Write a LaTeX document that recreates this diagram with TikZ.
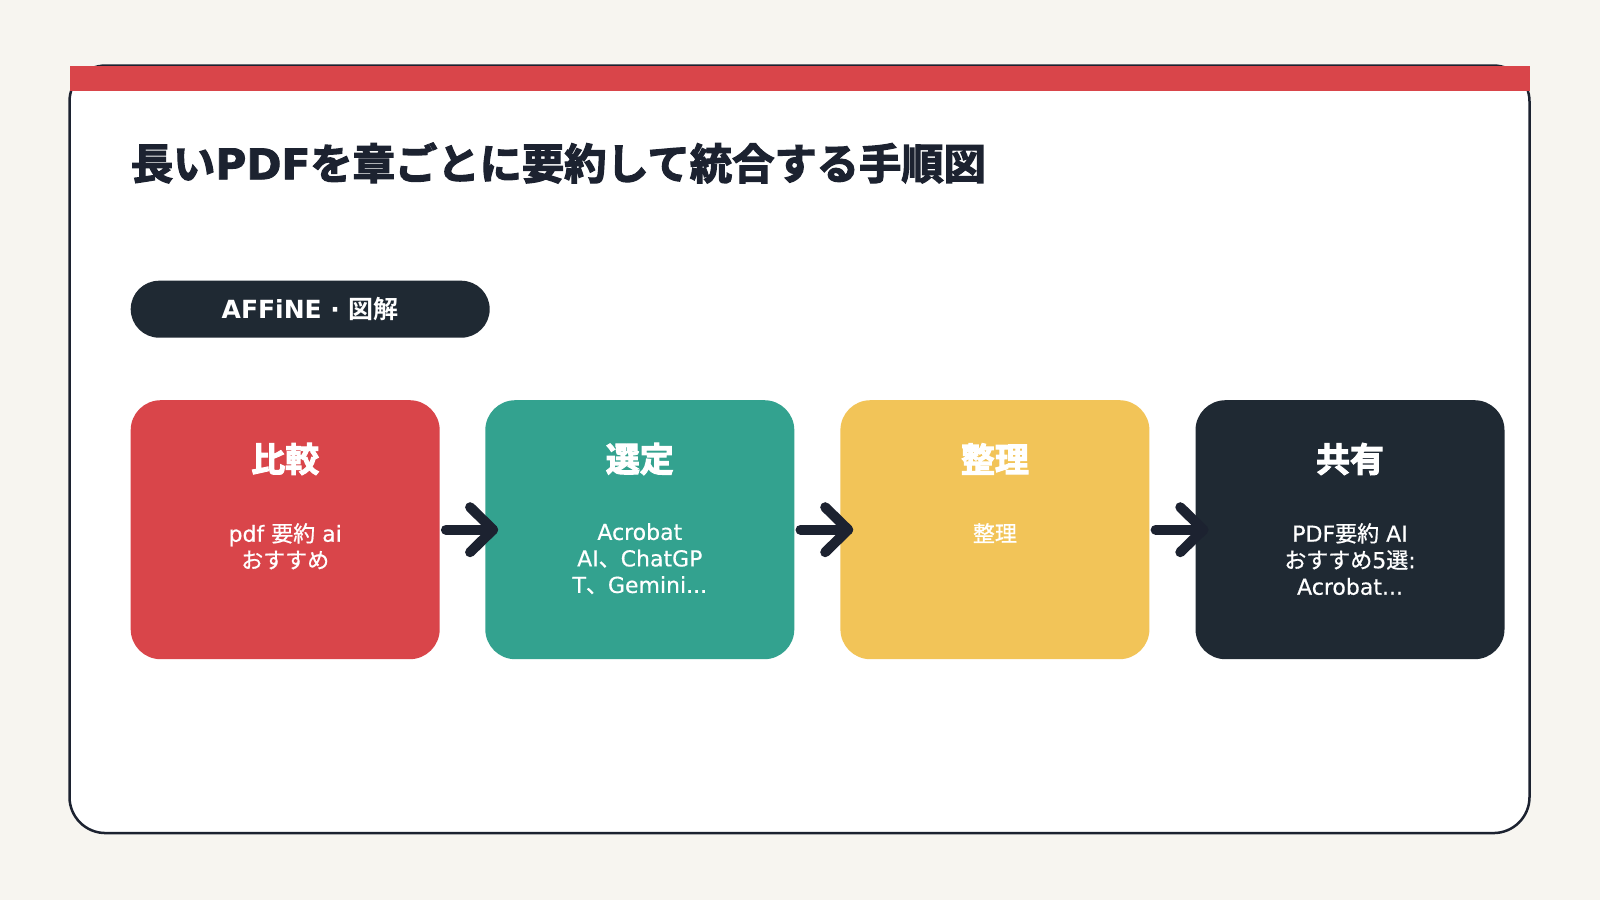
\documentclass[tikz,border=0pt]{standalone}
\usepackage{fontspec}
\setmainfont{Noto Sans CJK JP}[BoldFont={Noto Sans CJK JP Bold}]
\newfontfamily\heavycjk{Noto Sans CJK JP Bold}[FakeBold=3]
\newfontfamily\heavylat{DejaVu Sans Bold}[FakeBold=2]
\newfontfamily\boldlat{DejaVu Sans Bold}
\newfontfamily\bodycjk{Noto Sans CJK JP}[FakeBold=0.8]
\newfontfamily\bodylat{DejaVu Sans}[FakeBold=0.5]
\newcommand\La[1]{{\bodylat #1}}
\usetikzlibrary{calc}
\definecolor{bgc}{HTML}{F7F5F0}
\definecolor{redc}{HTML}{D9454A}
\definecolor{tealc}{HTML}{33A28F}
\definecolor{yelc}{HTML}{F2C458}
\definecolor{darkc}{HTML}{1F2933}
\definecolor{inkc}{HTML}{1C2230}
\tikzset{
  card/.style={draw=inkc, fill=white, line width=2.5pt, rounded corners=36pt, inner sep=0pt},
  stepbox/.style={rounded corners=30pt, minimum width=309pt, minimum height=259pt, inner sep=0pt},
  boxtitle/.style={text=white, font=\fontsize{34}{40}\selectfont\heavycjk},
  boxbody/.style={text=white, align=center, font=\fontsize{22}{26.5}\selectfont\bodycjk, inner sep=0pt},
  arrowline/.style={draw=inkc, line width=10pt, line cap=round, line join=round},
}
\begin{document}
\begin{tikzpicture}[x=1pt,y=-1pt]
\useasboundingbox (0,0) rectangle (1600,900);
\fill[bgc] (0,0) rectangle (1600,900);
\node[card, minimum width=1460pt, minimum height=767.5pt] (card) at (799.5,449.3) {};
\fill[redc] (70,66) rectangle (1530,91);
\node[anchor=west, text=inkc, inner sep=0pt, font=\fontsize{42.3}{50}\selectfont\heavycjk] (title) at (130.6,163) {長い{\heavylat PDF}を章ごとに要約して統合する手順図};
\node[fill=darkc, rounded corners=28.5pt, minimum width=359pt, minimum height=57pt, inner sep=0pt] (pill) at (310.2,309.2) {};
\node[text=white, font=\fontsize{25}{30}\selectfont\bfseries] (pilltext) at (pill.center) {{\boldlat AFFiNE · }図解};
% boxes
\node[stepbox, fill=redc] (b1) at (285.2,529.7) {};
\node[stepbox, fill=tealc] (b2) at (639.8,529.7) {};
\node[stepbox, fill=yelc] (b3) at (994.9,529.7) {};
\node[stepbox, fill=darkc] (b4) at (1350,529.7) {};
\foreach \b/\t/\txt in {b1/比較/{\La{pdf }要約\La{ ai}\\おすすめ}, b2/選定/{\La{Acrobat}\\\La{AI}、\La{ChatGP}\\\La{T}、\La{Gemini...}}, b3/整理/{整理}, b4/共有/{\La{PDF}要約\La{ AI}\\おすすめ\La{5}選\La{:}\\\La{Acrobat...}}}{
  \node[boxtitle] (\b t) at ($(\b.north)+(0,59)$) {\t};
  \node[boxbody, anchor=north] (\b d) at ($(\b.north)+(0,123)$) {\txt};
}
% arrows
\foreach \a/\c in {b1/b2, b2/b3, b3/b4}{
  \coordinate (\a s) at ($(\a.east)+(6,0)$);
  \coordinate (\a e) at ($(\c.west)+(8,0)$);
  \draw[arrowline] (\a s) -- (\a e);
  \draw[arrowline] ($(\a e)+(-23,-22.5)$) -- (\a e) -- ($(\a e)+(-23,22.5)$);
}
\end{tikzpicture}
\end{document}
